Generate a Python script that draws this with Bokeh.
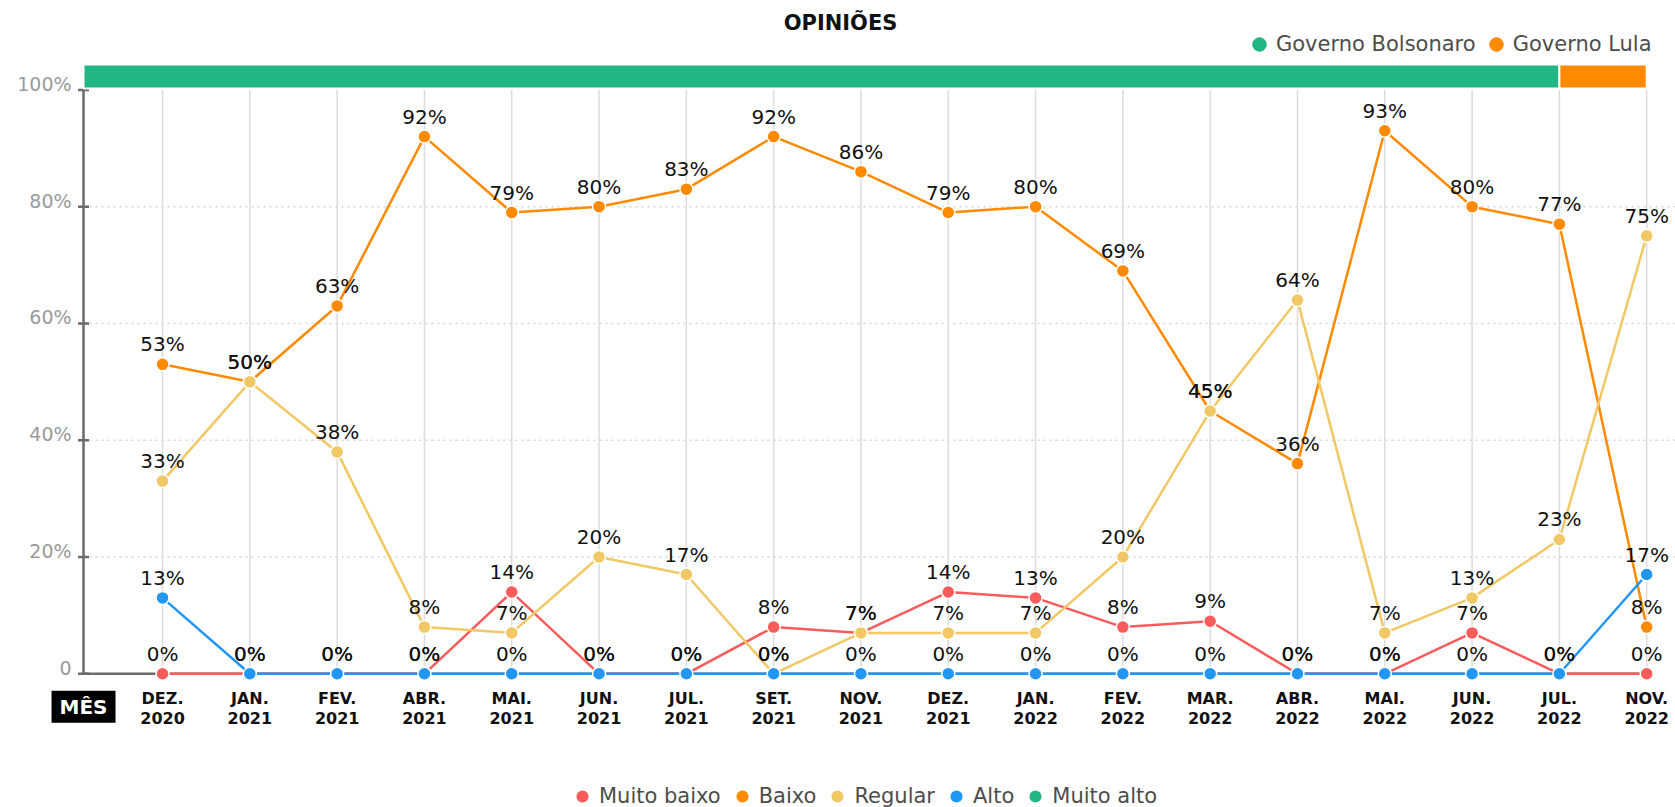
from bokeh.plotting import figure
from bokeh.models import (Range1d, Legend, LegendItem, Label, ColumnDataSource)
from bokeh.core.properties import value
from bokeh.embed import file_html
from bokeh.resources import INLINE

# ---------------- data ----------------
meses = ["DEZ.\n2020", "JAN.\n2021", "FEV.\n2021", "ABR.\n2021", "MAI.\n2021",
         "JUN.\n2021", "JUL.\n2021", "SET.\n2021", "NOV.\n2021", "DEZ.\n2021",
         "JAN.\n2022", "FEV.\n2022", "MAR.\n2022", "ABR.\n2022", "MAI.\n2022",
         "JUN.\n2022", "JUL.\n2022", "NOV.\n2022"]

muito_baixo = [0, 0, 0, 0, 14, 0, 0, 8, 7, 14, 13, 8, 9, 0, 0, 7, 0, 0]
baixo = [53, 50, 63, 92, 79, 80, 83, 92, 86, 79, 80, 69, 45, 36, 93, 80, 77, 8]
regular = [33, 50, 38, 8, 7, 20, 17, 0, 7, 7, 7, 20, 45, 64, 7, 13, 23, 75]
alto = [13, 0, 0, 0, 0, 0, 0, 0, 0, 0, 0, 0, 0, 0, 0, 0, 0, 17]
muito_alto = []  # sem dados

series_nomes = ["Muito baixo", "Baixo", "Regular", "Alto", "Muito alto"]
series_valores = [muito_baixo, baixo, regular, alto, muito_alto]
series_cores = ["#fa5b5b", "#ff8a00", "#f1c865", "#2196f3", "#21b683"]

governos = ["Governo Bolsonaro", "Governo Lula"]
governo_fim = ["JUL.\n2022", "NOV.\n2022"]
governo_cores = ["#21b683", "#ff8a00"]

y_ticks = [0, 20, 40, 60, 80, 100]
y_tick_labels = ["0", "20%", "40%", "60%", "80%", "100%"]
grid_ticks = [20, 40, 60, 80]

titulo = "OPINIÕES"
rotulo_x = "MÊS"

FONT_NAME = "DejaVu Sans"
FONT = value(FONT_NAME)
NAN = float("nan")
idx = list(range(len(meses)))
n = len(idx)

# ---------------- figure (the frame fills the whole canvas) ----------------
x_start, x_end = -1.856, 17.33
y_start, y_end = -22.90, 115.31
axis_x = -0.905          # where the value axis stands
bar_band = (100.25, 104.35)

p = figure(width=1675, height=807, output_backend="svg", toolbar_location=None,
           x_range=Range1d(x_start, x_end), y_range=Range1d(y_start, y_end),
           min_border_left=0, min_border_right=0, min_border_top=0,
           min_border_bottom=0)
p.title.visible = False
p.xaxis.visible = False
p.yaxis.visible = False
p.grid.visible = False
p.outline_line_color = None
p.background_fill_color = "white"
p.border_fill_color = "white"

AXIS_COL = "#6b6b6b"

# dotted horizontal grid
p.segment(x0=[axis_x] * len(grid_ticks), y0=grid_ticks,
          x1=[x_end] * len(grid_ticks), y1=grid_ticks,
          line_color="#d4d4d4", line_width=1.5, line_dash="2 4")

# vertical grid per month, from 0 to 100
p.segment(x0=idx, y0=[y_ticks[0]] * n, x1=idx, y1=[y_ticks[-1]] * n,
          line_color="#dcdcdc", line_width=1.5)

# zero line and value axis
p.segment(x0=[axis_x], y0=[y_ticks[0]], x1=[idx[-1]], y1=[y_ticks[0]],
          line_color=AXIS_COL, line_width=2.5)
p.segment(x0=[axis_x], y0=[y_ticks[0]], x1=[axis_x], y1=[y_ticks[-1]],
          line_color=AXIS_COL, line_width=2.5)
p.scatter(x=[axis_x] * len(y_ticks), y=y_ticks, marker="dash", size=11,
          line_color=AXIS_COL, line_width=2.5)
p.text(x=[axis_x] * len(y_ticks), y=y_ticks, text=y_tick_labels, x_offset=-12,
       y_offset=-6, text_align="right", text_baseline="middle", text_font=FONT,
       text_font_size="19px", text_color="#9a9a9a")

# month labels
p.text(x=idx, y=[y_ticks[0]] * n, text=meses, y_offset=15, text_align="center",
       text_baseline="top", text_font=FONT, text_font_style="bold",
       text_font_size="16px", text_color="#111111", text_line_height=1.05)

# government bar on top
gov_left = [axis_x] + [meses.index(m) for m in governo_fim[:-1]]
gov_right = [meses.index(m) for m in governo_fim]
p.quad(left=gov_left, right=gov_right, bottom=bar_band[0], top=bar_band[1],
       fill_color=governo_cores, line_color="white", line_width=2)

# series
legend_rs = []
srcs = []
for nome, vals, cor in zip(series_nomes, series_valores, series_cores):
    if vals:
        src = ColumnDataSource(dict(x=idx[:len(vals)], y=vals,
                                    t=[f"{v}%" for v in vals]))
        p.line("x", "y", source=src, line_color=cor, line_width=2.5)
        r = p.scatter("x", "y", source=src, size=13, fill_color=cor,
                      line_color="white", line_width=1.5)
        srcs.append(src)
    else:
        r = p.scatter(x=[NAN], y=[NAN], size=13, fill_color=cor,
                      line_color="white", line_width=1.5)
    legend_rs.append((nome, r))

for src in srcs:
    p.text("x", "y", text="t", source=src, text_align="center",
           text_baseline="alphabetic", y_offset=-20, text_font=FONT,
           text_font_size="20px", text_color="#111111")

# top legend (governments)
gov_rs = [p.scatter(x=[NAN], y=[NAN], size=13, fill_color=c, line_color=c)
          for c in governo_cores]
top_leg = Legend(items=[LegendItem(label=g, renderers=[r]) for g, r in zip(governos, gov_rs)],
                 location=(1242, 746), orientation="horizontal", margin=0, padding=0,
                 spacing=3, label_standoff=0, glyph_width=34, glyph_height=34,
                 border_line_color=None, background_fill_alpha=0,
                 label_text_font=FONT_NAME, label_text_font_size="21px",
                 label_text_color="#4d4d4d")
p.add_layout(top_leg)

# bottom legend (series)
bot_leg = Legend(items=[LegendItem(label=nm, renderers=[r]) for nm, r in legend_rs],
                 location=(565, -6), orientation="horizontal", margin=0, padding=0,
                 spacing=4, label_standoff=0, glyph_width=34, glyph_height=34,
                 border_line_color=None, background_fill_alpha=0,
                 label_text_font=FONT_NAME, label_text_font_size="21px",
                 label_text_color="#4d4d4d")
p.add_layout(bot_leg)

# title
p.add_layout(Label(x=7.766, y=111.54, text=titulo, text_align="center",
                   text_baseline="middle", text_font=FONT_NAME,
                   text_font_style="bold", text_font_size="21px", text_color="#111111"))

# MÊS label
p.add_layout(Label(x=axis_x, y=-5.63, text=rotulo_x, text_align="center",
                   text_baseline="middle", text_font=FONT_NAME, text_font_style="bold",
                   text_font_size="20px", text_color="white",
                   background_fill_color="black", padding=(8, 4)))

open("out.html", "w").write(file_html(p, INLINE))
